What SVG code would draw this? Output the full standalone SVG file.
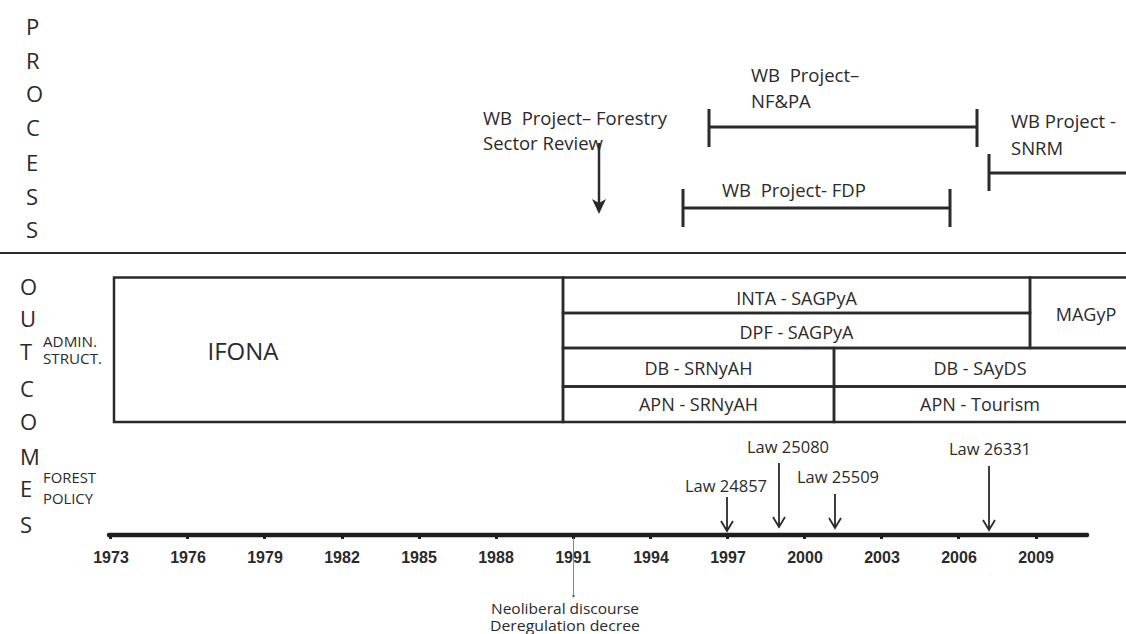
<svg xmlns="http://www.w3.org/2000/svg" width="1126" height="634" viewBox="0 0 1126 634">
<style>
text{font-family:"Open Sans","Noto Sans","Liberation Sans",sans-serif;fill:#2a2a2a;white-space:pre}
.big{font-size:22px}
.side{font-size:14px}
.proc{font-size:18.5px}
.cell{font-size:18px}
.law{font-size:16.5px}
.yr{font-family:"Liberation Sans",Arial,sans-serif;font-weight:bold;font-size:16px;text-anchor:middle;fill:#2a2a2a}
.note{font-size:14px;text-anchor:middle}
.mid{text-anchor:middle}
.box{fill:none;stroke:#2a2a2a;stroke-width:2.5}
.bar{stroke:#2a2a2a;stroke-width:3;fill:none}
.arr{stroke:#2a2a2a;stroke-width:1.8;fill:none}
</style>
<rect width="1126" height="634" fill="#ffffff"/>

<g id="process-label">
<text class="big" x="26" y="35">P</text>
<text class="big" x="26" y="69">R</text>
<text class="big" x="26" y="102">O</text>
<text class="big" x="26" y="136">C</text>
<text class="big" x="26" y="171">E</text>
<text class="big" x="26" y="205">S</text>
<text class="big" x="26" y="238">S</text>
</g>

<g id="outcomes-label">
<text class="big" x="20" y="295">O</text>
<text class="big" x="20" y="327">U</text>
<text class="big" x="20" y="360">T</text>
<text class="big" x="20" y="397">C</text>
<text class="big" x="20" y="430">O</text>
<text class="big" x="20" y="465">M</text>
<text class="big" x="20" y="497">E</text>
<text class="big" x="20" y="533">S</text>
</g>

<g id="admin-struct-label">
<text class="side" x="43" y="347" textLength="54" lengthAdjust="spacingAndGlyphs">ADMIN.</text>
<text class="side" x="43" y="364" textLength="59" lengthAdjust="spacingAndGlyphs">STRUCT.</text>
</g>
<g id="forest-policy-label">
<text class="side" x="43" y="483" textLength="53" lengthAdjust="spacingAndGlyphs">FOREST</text>
<text class="side" x="43" y="504" textLength="50" lengthAdjust="spacingAndGlyphs">POLICY</text>
</g>

<g id="separator">
<line x1="0" y1="253" x2="1126" y2="253" stroke="#2a2a2a" stroke-width="2"/>
</g>

<g id="wb-forestry-review">
<text class="proc" x="483" y="125">WB  Project– Forestry</text>
<text class="proc" x="483" y="150">Sector Review</text>
</g>
<g id="wb-nfpa">
<text class="proc" x="751" y="82">WB  Project–</text>
<text class="proc" x="751" y="108">NF&amp;PA</text>
</g>
<g id="wb-fdp">
<text class="proc" x="722" y="197">WB  Project- FDP</text>
</g>
<g id="wb-snrm">
<text class="proc" x="1011" y="128">WB Project -</text>
<text class="proc" x="1011" y="155">SNRM</text>
</g>

<g id="ifona">
<rect class="box" x="114" y="277.5" width="449" height="144.5"/>
<text class="mid" x="243" y="360" font-size="24">IFONA</text>
</g>
<g id="inta-sagpya">
<rect class="box" x="563" y="277.5" width="467" height="35.5"/>
<text class="cell mid" x="796.5" y="305">INTA - SAGPyA</text>
</g>
<g id="dpf-sagpya">
<rect class="box" x="563" y="313" width="467" height="35"/>
<text class="cell mid" x="796.5" y="339">DPF - SAGPyA</text>
</g>
<g id="magyp">
<path class="box" d="M1130 277.5 H1030 V348 H1130"/>
<text class="cell mid" x="1086" y="321">MAGyP</text>
</g>
<g id="db-srnyah">
<rect class="box" x="563" y="348" width="271" height="38.5"/>
<text class="cell mid" x="698.5" y="375">DB - SRNyAH</text>
</g>
<g id="apn-srnyah">
<rect class="box" x="563" y="386.5" width="271" height="35.5"/>
<text class="cell mid" x="698.5" y="411">APN - SRNyAH</text>
</g>
<g id="db-sayds">
<path class="box" d="M1130 348 H834 V386.5 H1130"/>
<text class="cell mid" x="980" y="375">DB - SAyDS</text>
</g>
<g id="apn-tourism">
<path class="box" d="M1130 386.5 H834 V422 H1130"/>
<text class="cell mid" x="980" y="411">APN - Tourism</text>
</g>

<g id="law-24857"><text class="law mid" x="726" y="492">Law 24857</text></g>
<g id="law-25080"><text class="law mid" x="788" y="453">Law 25080</text></g>
<g id="law-25509"><text class="law mid" x="838" y="483">Law 25509</text></g>
<g id="law-26331"><text class="law mid" x="990" y="455">Law 26331</text></g>

<g id="neoliberal-note">
<text class="note" x="565" y="614" textLength="148" lengthAdjust="spacingAndGlyphs">Neoliberal discourse</text>
<text class="note" x="565" y="631" textLength="150" lengthAdjust="spacingAndGlyphs">Deregulation decree</text>
</g>

<g id="timeline">
<line x1="109" y1="535" x2="1087" y2="535" stroke="#1e1e1e" stroke-width="4.5" stroke-linecap="round"/>
<g fill="#1e1e1e">
<rect x="109" y="533" width="3" height="6"/>
<rect x="186" y="533" width="3" height="6"/>
<rect x="263" y="533" width="3" height="6"/>
<rect x="341" y="533" width="3" height="6"/>
<rect x="418" y="533" width="3" height="6"/>
<rect x="495" y="533" width="3" height="6"/>
<rect x="572" y="533" width="3" height="6"/>
<rect x="649" y="533" width="3" height="6"/>
<rect x="726" y="533" width="3" height="6"/>
<rect x="803" y="533" width="3" height="6"/>
<rect x="880" y="533" width="3" height="6"/>
<rect x="957" y="533" width="3" height="6"/>
<rect x="1035" y="533" width="3" height="6"/>
</g>
<text class="yr" x="111" y="563">1973</text>
<text class="yr" x="188" y="563">1976</text>
<text class="yr" x="265" y="563">1979</text>
<text class="yr" x="342" y="563">1982</text>
<text class="yr" x="419" y="563">1985</text>
<text class="yr" x="496" y="563">1988</text>
<text class="yr" x="573" y="563">1991</text>
<text class="yr" x="651" y="563">1994</text>
<text class="yr" x="728" y="563">1997</text>
<text class="yr" x="805" y="563">2000</text>
<text class="yr" x="882" y="563">2003</text>
<text class="yr" x="959" y="563">2006</text>
<text class="yr" x="1036" y="563">2009</text>
</g>

<g id="connectors">
<path class="bar" d="M709 127 H977 M709 109 V147 M977 109 V147"/>
<path class="bar" d="M683 208 H950 M683 189 V227 M950 189 V227"/>
<path class="bar" d="M989 173 H1126 M989 154 V191"/>
<line x1="599" y1="143" x2="599" y2="207" stroke="#2a2a2a" stroke-width="2.5"/>
<polygon points="599,214 592,199 599,203 606,199" fill="#2a2a2a"/>
<path class="arr" d="M727 497 V531 M721 521 L727 531 L733 521"/>
<path class="arr" d="M779 463 V527 M773 517 L779 527 L785 517"/>
<path class="arr" d="M835 494 V528 M829 518 L835 528 L841 518"/>
<path class="arr" d="M989 466 V530 M983 520 L989 530 L995 520"/>
<line x1="573.5" y1="538" x2="573.5" y2="595" stroke="#888" stroke-width="1"/>
<circle cx="573.5" cy="596" r="1.3" fill="#666"/>
</g>
</svg>
